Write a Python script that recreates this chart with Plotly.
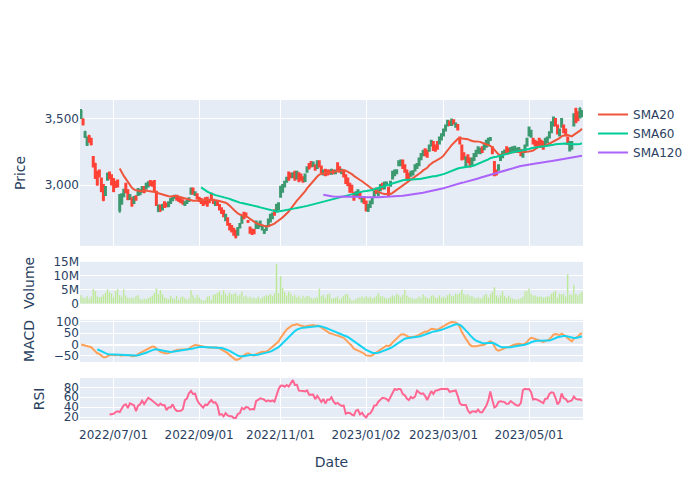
import pandas as pd
import plotly.graph_objects as go
from plotly.subplots import make_subplots

start_date = "2022-06-09"
end_date = "2023-06-07"
holidays = ["2022-07-04", "2022-08-15", "2022-09-12", "2022-10-03", "2022-10-10",
            "2022-11-24", "2022-12-26", "2023-01-16", "2023-01-23", "2023-01-24",
            "2023-02-20", "2023-04-07", "2023-05-29"]

open_ = [
    3510, 3495, 3365, 3305, 3370, 3350, 3212, 3160, 3100, 3110,
    3050, 3000, 2925, 3040, 3095, 3075, 3045, 3025, 3035, 2810,
    2860, 2915, 3010, 2960, 2895, 2900, 2865, 2915, 2925, 2930,
    2950, 2985, 2975, 2990, 3030, 3025, 3030, 2950, 2805, 2845,
    2815, 2870, 2860, 2840, 2865, 2885, 2905, 2920, 2905, 2895,
    2885, 2850, 2865, 2880, 2935, 2975, 2925, 2930, 2905, 2895,
    2885, 2900, 2905, 2885, 2935, 2890, 2850, 2870, 2850, 2825,
    2805, 2735, 2750, 2705, 2690, 2670, 2655, 2625, 2680, 2715,
    2790, 2785, 2728, 2680, 2665, 2660, 2675, 2675, 2690, 2665,
    2640, 2660, 2690, 2725, 2750, 2810, 2800, 2815, 2912, 2950,
    2990, 3025, 3095, 3085, 3060, 3100, 3050, 3090, 3080, 3060,
    3030, 3100, 3160, 3175, 3145, 3150, 3130, 3180, 3140, 3080,
    3115, 3110, 3110, 3085, 3110, 3090, 3165, 3135, 3090, 3110,
    3075, 3050, 3010, 2995, 2940, 2925, 2925, 2940, 2875, 2900,
    2875, 2805, 2835, 2862, 2910, 2975, 2925, 2960, 3010, 2975,
    3000, 2980, 2995, 3050, 3075, 3090, 3150, 3150, 3185, 3150,
    3110, 3085, 3070, 3080, 3110, 3130, 3150, 3195, 3225, 3270,
    3260, 3260, 3300, 3325, 3300, 3325, 3315, 3345, 3375, 3412,
    3450, 3480, 3455, 3490, 3440, 3455, 3360, 3300, 3240, 3140,
    3225, 3200, 3160, 3190, 3220, 3245, 3240, 3285, 3270, 3290,
    3300, 3340, 3285, 3175, 3110, 3115, 3190, 3210, 3240, 3285,
    3275, 3250, 3255, 3260, 3250, 3255, 3265, 3215, 3250, 3300,
    3375, 3365, 3350, 3335, 3325, 3350, 3335, 3325, 3310, 3325,
    3360, 3400, 3450, 3500, 3450, 3375, 3440, 3450, 3420, 3360,
    3262, 3275, 3450, 3575, 3550, 3510, 3520,
]

high = [
    3575, 3505, 3410, 3368, 3380, 3358, 3220, 3168, 3108, 3118,
    3058, 3005, 2992, 3095, 3102, 3082, 3050, 3032, 3042, 2932,
    2938, 2972, 3018, 2966, 2932, 2906, 2918, 2922, 2976, 2968,
    2992, 2992, 3018, 3028, 3036, 3032, 3036, 2956, 2852, 2852,
    2858, 2876, 2866, 2877, 2902, 2917, 2927, 2926, 2911, 2900,
    2891, 2877, 2886, 2906, 2982, 2981, 2952, 2936, 2911, 2900,
    2890, 2906, 2911, 2891, 2941, 2896, 2885, 2876, 2856, 2830,
    2810, 2782, 2756, 2711, 2696, 2676, 2660, 2682, 2712, 2768,
    2796, 2792, 2734, 2686, 2671, 2666, 2732, 2717, 2731, 2697,
    2667, 2697, 2747, 2782, 2792, 2816, 2858, 2870, 2995, 3008,
    3032, 3062, 3102, 3092, 3097, 3106, 3107, 3096, 3086, 3066,
    3087, 3142, 3166, 3181, 3177, 3156, 3187, 3186, 3146, 3117,
    3121, 3116, 3116, 3122, 3116, 3117, 3171, 3141, 3122, 3116,
    3081, 3056, 3016, 3001, 2946, 2952, 2967, 2946, 2917, 2906,
    2881, 2857, 2882, 2907, 2957, 2981, 2967, 3007, 3016, 3027,
    3027, 2986, 3032, 3107, 3117, 3119, 3187, 3192, 3191, 3156,
    3116, 3091, 3107, 3112, 3157, 3167, 3207, 3242, 3267, 3276,
    3266, 3307, 3342, 3331, 3306, 3331, 3367, 3392, 3427, 3457,
    3494, 3486, 3502, 3496, 3472, 3461, 3366, 3306, 3246, 3217,
    3231, 3206, 3207, 3242, 3267, 3292, 3282, 3291, 3312, 3342,
    3357, 3362, 3291, 3181, 3116, 3157, 3232, 3257, 3269, 3291,
    3281, 3287, 3292, 3297, 3282, 3287, 3271, 3257, 3307, 3357,
    3442, 3417, 3356, 3341, 3331, 3356, 3341, 3331, 3357, 3367,
    3407, 3482, 3517, 3506, 3456, 3427, 3507, 3456, 3426, 3366,
    3332, 3332, 3542, 3585, 3556, 3588, 3567,
]

low = [
    3500, 3450, 3355, 3295, 3320, 3300, 3132, 3045, 2995, 3058,
    2945, 2878, 2918, 3032, 3042, 2998, 2946, 2978, 2982, 2790,
    2852, 2908, 2938, 2886, 2888, 2836, 2858, 2884, 2918, 2925,
    2944, 2938, 2970, 2984, 2994, 2988, 2948, 2842, 2795, 2796,
    2808, 2828, 2832, 2834, 2858, 2880, 2900, 2884, 2874, 2864,
    2852, 2844, 2860, 2875, 2930, 2928, 2920, 2894, 2874, 2858,
    2843, 2853, 2836, 2864, 2884, 2858, 2844, 2844, 2808, 2782,
    2756, 2728, 2692, 2658, 2642, 2617, 2596, 2618, 2674, 2708,
    2742, 2758, 2714, 2632, 2622, 2628, 2668, 2668, 2684, 2658,
    2630, 2654, 2684, 2718, 2744, 2768, 2793, 2808, 2905, 2944,
    2984, 3018, 3032, 3052, 3054, 3032, 3044, 3022, 3032, 3018,
    3024, 3094, 3118, 3133, 3139, 3108, 3124, 3133, 3088, 3074,
    3068, 3073, 3078, 3079, 3083, 3084, 3108, 3093, 3084, 3058,
    3008, 2992, 2942, 2943, 2882, 2918, 2918, 2893, 2868, 2858,
    2800, 2796, 2828, 2855, 2904, 2933, 2918, 2954, 2968, 2968,
    2994, 2918, 2988, 3044, 3068, 3084, 3144, 3144, 3123, 3093,
    3042, 3043, 3064, 3074, 3104, 3124, 3144, 3189, 3219, 3218,
    3208, 3254, 3294, 3258, 3253, 3268, 3309, 3339, 3369, 3406,
    3444, 3448, 3449, 3458, 3434, 3413, 3308, 3186, 3192, 3132,
    3168, 3132, 3154, 3184, 3214, 3239, 3234, 3243, 3264, 3284,
    3294, 3334, 3233, 3066, 3072, 3109, 3184, 3204, 3234, 3233,
    3233, 3244, 3249, 3254, 3244, 3249, 3218, 3209, 3244, 3294,
    3369, 3359, 3308, 3293, 3283, 3293, 3283, 3268, 3304, 3319,
    3354, 3394, 3444, 3443, 3383, 3369, 3434, 3393, 3368, 3303,
    3255, 3269, 3444, 3468, 3483, 3504, 3514,
]

close = [
    3560, 3460, 3400, 3360, 3330, 3310, 3140, 3055, 3005, 3065,
    2955, 2890, 2985, 3085, 3050, 3005, 2955, 2985, 2990, 2925,
    2930, 2965, 2945, 2895, 2925, 2845, 2910, 2890, 2970, 2960,
    2985, 2945, 3010, 3020, 3000, 2995, 2955, 2850, 2845, 2815,
    2850, 2835, 2840, 2870, 2895, 2910, 2920, 2890, 2880, 2870,
    2860, 2870, 2880, 2900, 2975, 2935, 2945, 2900, 2880, 2865,
    2850, 2860, 2845, 2870, 2890, 2865, 2878, 2850, 2815, 2790,
    2765, 2775, 2700, 2665, 2650, 2625, 2610, 2675, 2705, 2760,
    2750, 2765, 2722, 2640, 2630, 2635, 2725, 2710, 2725, 2690,
    2660, 2690, 2740, 2775, 2785, 2775, 2850, 2862, 2987, 3000,
    3025, 3055, 3040, 3060, 3090, 3040, 3100, 3030, 3040, 3025,
    3080, 3135, 3125, 3140, 3170, 3115, 3180, 3140, 3095, 3110,
    3075, 3080, 3085, 3115, 3090, 3110, 3115, 3100, 3115, 3065,
    3015, 3000, 2950, 2950, 2890, 2945, 2960, 2900, 2910, 2865,
    2810, 2850, 2875, 2900, 2950, 2940, 2960, 3000, 2975, 3020,
    3020, 2925, 3025, 3100, 3110, 3112, 3180, 3185, 3130, 3100,
    3050, 3050, 3100, 3105, 3150, 3160, 3200, 3235, 3260, 3225,
    3215, 3300, 3335, 3265, 3260, 3275, 3360, 3385, 3420, 3450,
    3487, 3455, 3495, 3465, 3465, 3420, 3315, 3195, 3200, 3210,
    3175, 3140, 3200, 3235, 3260, 3285, 3275, 3250, 3305, 3335,
    3350, 3355, 3240, 3075, 3080, 3150, 3225, 3250, 3262, 3240,
    3240, 3280, 3285, 3290, 3275, 3280, 3225, 3250, 3300, 3350,
    3435, 3410, 3315, 3300, 3290, 3300, 3290, 3275, 3350, 3360,
    3400, 3475, 3510, 3450, 3390, 3420, 3500, 3400, 3375, 3310,
    3325, 3325, 3535, 3475, 3490, 3575, 3560,
]

volume_m = [
    3.2, 2.3, 2.0, 2.8, 1.8, 2.6, 5.3, 4.6, 2.7, 2.4,
    2.6, 3.3, 4.0, 5.2, 4.3, 3.8, 2.4, 4.6, 5.3, 3.2,
    2.6, 5.2, 3.0, 2.2, 2.0, 2.4, 2.1, 2.9, 3.2, 1.8,
    1.6, 1.9, 1.7, 2.2, 2.5, 3.0, 4.0, 5.5, 3.6, 5.0,
    3.4, 2.4, 2.0, 1.7, 3.0, 2.0, 1.8, 2.9, 1.6, 2.5,
    2.6, 2.1, 1.6, 2.0, 5.0, 3.2, 2.1, 3.3, 2.4, 1.6,
    1.2, 1.4, 2.6, 2.8, 1.5, 3.3, 3.5, 4.0, 4.5, 3.2,
    4.9, 3.6, 3.0, 4.1, 3.4, 3.6, 3.9, 2.8, 3.4, 4.4,
    2.6, 3.0, 2.2, 2.6, 2.0, 2.3, 1.9, 2.6, 1.8, 2.4,
    2.7, 3.2, 3.0, 3.6, 2.8, 3.8, 14.3, 3.9, 10.0, 5.8,
    4.3, 3.1, 4.4, 3.6, 2.8, 3.2, 2.4, 2.9, 2.1, 3.0,
    2.4, 3.0, 2.7, 2.2, 1.9, 2.3, 2.4, 5.4, 2.8, 3.3,
    2.1, 3.4, 3.6, 1.9, 2.1, 2.3, 2.6, 1.6, 2.3, 3.0,
    3.6, 3.4, 2.1, 1.3, 1.4, 1.8, 2.2, 2.4, 2.6, 2.3,
    2.8, 2.2, 2.6, 2.0, 2.4, 2.9, 3.9, 2.6, 2.8, 2.4,
    1.8, 2.1, 2.5, 3.1, 2.6, 3.6, 3.2, 2.5, 3.3, 5.0,
    3.0, 2.5, 2.2, 2.0, 1.8, 2.1, 2.6, 2.2, 3.4, 2.6,
    2.2, 2.0, 3.0, 3.2, 2.4, 2.1, 3.1, 2.2, 2.6, 2.3,
    3.2, 3.6, 3.0, 2.8, 3.7, 3.4, 4.0, 5.1, 3.6, 3.2,
    3.4, 2.7, 2.9, 2.3, 2.1, 2.5, 1.9, 2.2, 3.2, 3.6,
    2.4, 3.4, 4.3, 6.0, 3.1, 2.4, 3.2, 4.6, 2.9, 2.2,
    3.0, 2.2, 1.9, 1.7, 1.6, 1.8, 2.1, 2.6, 4.5, 4.7,
    5.5, 3.6, 2.9, 3.1, 2.6, 2.6, 2.7, 2.3, 2.4, 2.8,
    2.6, 3.6, 4.2, 4.7, 2.4, 3.7, 3.4, 3.6, 2.6, 10.6,
    3.4, 3.3, 6.8, 3.6, 3.1, 3.8, 4.4,
]

# trading calendar
dates = pd.bdate_range(start_date, end_date)
dates = dates[~dates.isin(pd.to_datetime(holidays))]
n = min(len(dates), len(close))
dates = dates[:n]

df = pd.DataFrame({
    "Open": open_[:n], "High": high[:n], "Low": low[:n],
    "Close": close[:n], "Volume": [v * 1e6 for v in volume_m[:n]],
}, index=dates)

# indicators derived from the closes
c = df["Close"]
sma20 = c.rolling(20).mean()
sma60 = c.rolling(60).mean()
sma120 = c.rolling(120).mean()
macd = c.ewm(span=12).mean() - c.ewm(span=26).mean()
signal = macd.ewm(span=9, min_periods=9).mean()
delta = c.diff()
gain = delta.clip(lower=0).rolling(14).mean()
loss = (-delta.clip(upper=0)).rolling(14).mean()
rsi = 100 - 100 / (1 + gain / loss)

fig = make_subplots(rows=4, cols=1, shared_xaxes=True, vertical_spacing=0.05,
                    row_heights=[0.52, 0.15, 0.15, 0.15])

fig.add_trace(go.Candlestick(x=df.index, open=df["Open"], high=df["High"],
                             low=df["Low"], close=df["Close"], showlegend=False,
                             name="Price"), row=1, col=1)
fig.add_trace(go.Scatter(x=df.index, y=sma20, mode="lines", name="SMA20",
                         line=dict(color="#EF553B", width=2)), row=1, col=1)
fig.add_trace(go.Scatter(x=df.index, y=sma60, mode="lines", name="SMA60",
                         line=dict(color="#00CC96", width=2)), row=1, col=1)
fig.add_trace(go.Scatter(x=df.index, y=sma120, mode="lines", name="SMA120",
                         line=dict(color="#AB63FA", width=2)), row=1, col=1)

fig.add_trace(go.Bar(x=df.index, y=df["Volume"], marker_color="#B6E880",
                     showlegend=False, name="Volume"), row=2, col=1)

fig.add_trace(go.Scatter(x=df.index, y=macd, mode="lines", name="MACD",
                         line=dict(color="#FFA15A", width=2), showlegend=False), row=3, col=1)
fig.add_trace(go.Scatter(x=df.index, y=signal, mode="lines", name="Signal",
                         line=dict(color="#19D3F3", width=2), showlegend=False), row=3, col=1)

fig.add_trace(go.Scatter(x=df.index, y=rsi, mode="lines", name="RSI",
                         line=dict(color="#FF6692", width=2), showlegend=False), row=4, col=1)

fig.update_xaxes(rangeslider_visible=False, tickformat="%Y/%m/%d",
                 rangebreaks=[dict(bounds=["sat", "mon"]), dict(values=holidays)])
fig.update_xaxes(title_text="Date", ticks="outside", ticklen=4,
                 tickcolor="rgba(0,0,0,0)", row=4, col=1)
fig.update_yaxes(title_text="Price", tickformat=",", row=1, col=1)
fig.update_yaxes(title_text="Volume", row=2, col=1)
fig.update_yaxes(title_text="MACD", row=3, col=1)
fig.update_yaxes(title_text="RSI", row=4, col=1)

fig.update_layout(width=700, height=500, template="plotly",
                  font=dict(family="DejaVu Sans"))

fig.write_html("out.html", config={"displayModeBar": False},
               post_script="document.body.style.margin='0';document.body.style.overflow='hidden';")
